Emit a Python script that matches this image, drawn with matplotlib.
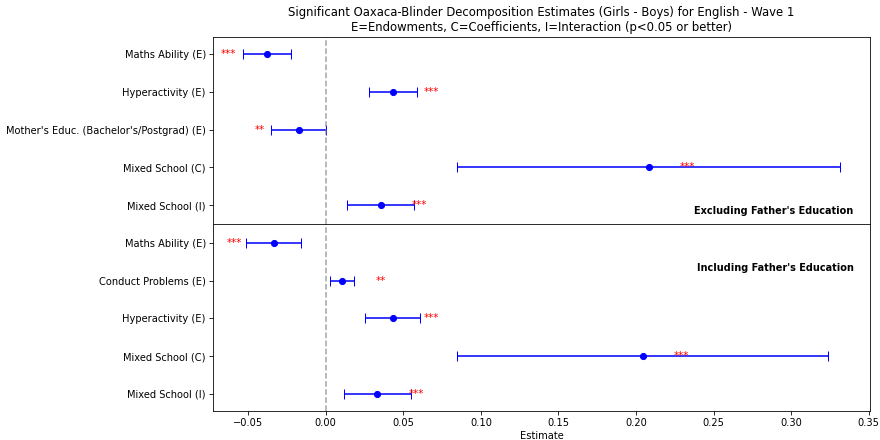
import matplotlib
matplotlib.use("Agg")
import matplotlib.pyplot as plt
import numpy as np

# Panel 1: excluding father's education
labels_excl = ["Maths Ability (E)", "Hyperactivity (E)",
               "Mother's Educ. (Bachelor's/Postgrad) (E)",
               "Mixed School (C)", "Mixed School (I)"]
est_excl = [-0.0378, 0.0432, -0.0176, 0.2083, 0.0355]
lo_excl = [-0.0535, 0.0279, -0.0355, 0.0848, 0.0135]
hi_excl = [-0.0224, 0.0589, 0.0000, 0.3316, 0.0569]
sig_excl = ["***", "***", "**", "***", "***"]

# Panel 2: including father's education
labels_incl = ["Maths Ability (E)", "Conduct Problems (E)", "Hyperactivity (E)",
               "Mixed School (C)", "Mixed School (I)"]
est_incl = [-0.0337, 0.0103, 0.0432, 0.2042, 0.0333]
lo_incl = [-0.0514, 0.0024, 0.0254, 0.0845, 0.0116]
hi_incl = [-0.0161, 0.0183, 0.0608, 0.3239, 0.0550]
sig_incl = ["***", "**", "***", "***", "***"]

DPI = 880 / 12
FS = 9.75
fig = plt.figure(figsize=(12, 6), dpi=DPI)
ax1 = fig.add_axes([0.242, 0.491, 0.7466, 0.425])
ax2 = fig.add_axes([0.242, 0.066, 0.7466, 0.425], sharex=ax1)


def draw_panel(ax, labels, est, lo, hi, sig, ylim, note, note_y, note_va):
    est = np.asarray(est)
    err = np.vstack([est - np.asarray(lo), np.asarray(hi) - est])
    y = np.arange(len(labels))
    ax.errorbar(est, y, xerr=err, fmt="o", color="blue", ecolor="blue",
                capsize=5, markersize=6)
    ax.axvline(0, color="gray", linestyle="--", alpha=0.7)
    for yi, e, s in zip(y, est, sig):
        off = 0.025 if e >= 0 else -0.025
        ax.text(e + off, yi, s, color="red", fontsize=10,
                ha="center", va="center")
    ax.set_yticks(y)
    ax.set_yticklabels(labels, fontsize=FS)
    ax.set_ylim(*ylim)
    ax.text(0.975, note_y, note, transform=ax.transAxes, ha="right",
            va=note_va, fontsize=9.6, fontweight="bold")


draw_panel(ax1, labels_excl, est_excl, lo_excl, hi_excl, sig_excl,
           (4.5, -0.45), "Excluding Father's Education", 0.04, "bottom")
draw_panel(ax2, labels_incl, est_incl, lo_incl, hi_incl, sig_incl,
           (4.45, -0.5), "Including Father's Education", 0.765, "center")

ax1.tick_params(axis="x", labelbottom=False, bottom=False)
ax2.tick_params(axis="x", labelsize=FS)
ax2.set_xlabel("Estimate", fontsize=FS, labelpad=2.5)

ax1.set_title("Significant Oaxaca-Blinder Decomposition Estimates (Girls - Boys) for English - Wave 1\n"
              "E=Endowments, C=Coefficients, I=Interaction (p<0.05 or better)",
              fontsize=11.45)

fig.savefig("out.png", dpi=DPI)
